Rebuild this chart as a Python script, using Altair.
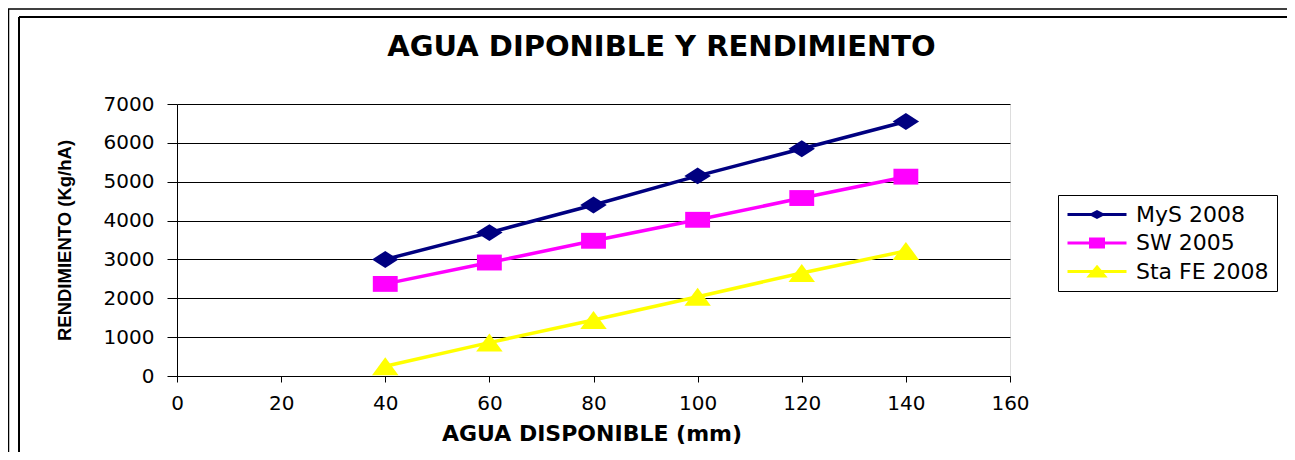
import altair as alt
import pandas as pd

# ---- data ----
agua = [40, 60, 80, 100, 120, 140]
mys_2008 = [3000, 3690, 4400, 5150, 5850, 6550]
sw_2005 = [2370, 2920, 3480, 4020, 4580, 5130]
sta_fe_2008 = [250, 860, 1440, 2040, 2650, 3220]
series = ["MyS 2008", "SW 2005", "Sta FE 2008"]
colors = ["#000080", "#FF00FF", "#FFFF00"]
x_ticks = [0, 20, 40, 60, 80, 100, 120, 140, 160]
y_ticks = [0, 1000, 2000, 3000, 4000, 5000, 6000, 7000]

rows = []
for name, vals in zip(series, [mys_2008, sw_2005, sta_fe_2008]):
    for a, v in zip(agua, vals):
        rows.append({"agua": a, "rend": v, "serie": name})
df = pd.DataFrame(rows)

# marker shapes (horizontally stretched like the reference)
marker_paths = [
    "M-1,0L0,-0.64L1,0L0,0.64Z",
    "M-0.94,-0.6L0.94,-0.6L0.94,0.6L-0.94,0.6Z",
    "M0,-0.68L1,0.68L-1,0.68Z",
]
# legend glyphs: a line segment with the marker in its middle
legend_paths = [
    "M-1,0L4.9,0M1.4,0L1.95,-0.28L2.5,0L1.95,0.28Z",
    "M-1,0L4.9,0M1.3,-0.4L2.6,-0.4L2.6,0.4L1.3,0.4Z",
    "M-1,0L4.9,0M1.95,-0.45L2.7,0.45L1.2,0.45Z",
]
shape_expr = (
    f"datum.value === '{series[0]}' ? '{legend_paths[0]}' : "
    f"datum.value === '{series[1]}' ? '{legend_paths[1]}' : '{legend_paths[2]}'"
)
color_expr = "scale('color', datum.value)"

W, H = 833, 272
PL, PT = 169, 96

x_enc = alt.X(
    "agua:Q",
    scale=alt.Scale(domain=[0, 160], nice=False, zero=True),
    axis=alt.Axis(
        values=x_ticks, grid=False, title="AGUA DISPONIBLE (mm)", format="d",
        titleFont="DejaVu Sans", titleFontSize=22, titleFontWeight="bold",
        titleColor="black", titleX=W / 2 - 2, titleY=57, titleBaseline="middle",
        titleAnchor="middle",
        labelFont="DejaVu Sans", labelFontSize=20, labelColor="black",
        labelBaseline="middle", labelPadding=21, tickSize=6, tickColor="black",
        domainColor="black", labelFlush=False, labelOverlap=False,
    ),
)
y_enc = alt.Y(
    "rend:Q",
    scale=alt.Scale(domain=[0, 7000], nice=False),
    axis=alt.Axis(
        values=y_ticks, grid=True, gridColor="black", gridWidth=1, format="d",
        title="RENDIMIENTO (Kg/hA)",
        titleFont="Liberation Sans", titleFontSize=18.5,
        titleFontWeight="bold", titleColor="black",
        titleX=-113, titleY=H / 2, titleBaseline="middle", titleAngle=270,
        labelFont="DejaVu Sans", labelFontSize=20, labelColor="black",
        labelPadding=13, tickSize=10, tickColor="black", domainColor="black",
        labelFlush=False, labelOverlap=False,
    ),
)
color_scale = alt.Scale(domain=series, range=colors)

lines = alt.Chart(df).mark_line(strokeWidth=3.5).encode(
    x=x_enc,
    y=y_enc,
    color=alt.Color(
        "serie:N", scale=color_scale, sort=series,
        legend=alt.Legend(
            title=None, orient="none", legendX=881, legendY=91,
            labelFont="DejaVu Sans", labelFontSize=22, labelColor="black",
            labelOffset=47, symbolSize=400, symbolStrokeWidth=3,
            symbolType={"expr": shape_expr},
            symbolFillColor={"expr": color_expr},
            symbolStrokeColor={"expr": color_expr},
            symbolOpacity=1,
            rowPadding=5.5, padding=8, strokeColor="black", fillColor="white",
            cornerRadius=0,
        ),
    ),
    detail="serie:N",
)

point_layers = []
for name, path in zip(series, marker_paths):
    point_layers.append(
        alt.Chart(df).transform_filter(alt.datum.serie == name)
        .mark_point(filled=True, size=700, opacity=1, shape=path)
        .encode(
            x=x_enc,
            y=y_enc,
            color=alt.Color("serie:N", scale=color_scale, sort=series, legend=None),
        )
    )

frame_df = pd.DataFrame({"k": [0]})
frame = alt.Chart(frame_df)
f1 = frame.mark_rule(color="black", strokeWidth=1.5).encode(
    x=alt.value(-PL), x2=alt.value(1110), y=alt.value(-95))
f2 = frame.mark_rule(color="black", strokeWidth=1.5).encode(
    x=alt.value(-PL + 0.5), y=alt.value(-95), y2=alt.value(400))
f3 = frame.mark_rule(color="black", strokeWidth=2).encode(
    x=alt.value(-158), x2=alt.value(1110), y=alt.value(-87))
f4 = frame.mark_rule(color="black", strokeWidth=2).encode(
    x=alt.value(-158), y=alt.value(-87), y2=alt.value(400))

chart = alt.layer(f1, f2, f3, f4, lines, *point_layers).properties(
    width=W,
    height=H,
    title=alt.TitleParams(
        "AGUA DIPONIBLE Y RENDIMIENTO", font="DejaVu Sans", fontSize=29,
        fontWeight="bold", color="black", anchor="middle", dx=68, offset=0,
        dy=54,
    ),
    autosize=alt.AutoSizeParams(type="none"),
    padding={"left": PL, "top": PT, "right": 277, "bottom": 76},
).configure_view(
    fill="#C0C0C0", stroke="#808080", strokeWidth=2,
).configure(background="white")

chart.save("out.html", embed_options={"renderer": "svg", "actions": False})
